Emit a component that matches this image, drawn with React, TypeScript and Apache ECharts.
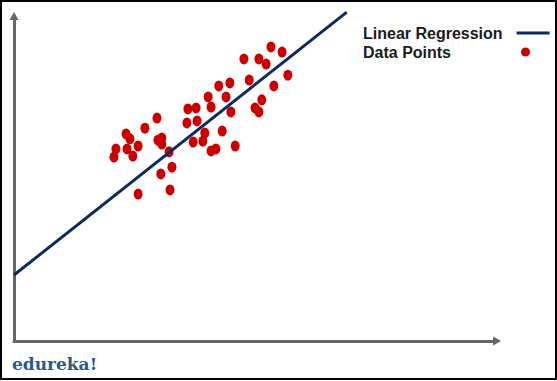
import React, { useEffect, useRef } from "react";
import * as echarts from "echarts";

// Data points (arbitrary units, x 0..100, y 0..100)
const pointsX = [53.2, 55.5, 47.6, 50.7, 52.2, 56.7, 48.7, 53.8, 44.7, 42.4, 40.2, 43.9, 51.3, 49.9, 50.7, 36.0, 37.7, 40.8, 44.9, 35.8, 37.9, 29.6, 27.1, 23.2, 24.0, 21.1, 20.7, 23.4, 25.7, 24.6, 29.8, 30.6, 30.6, 32.1, 39.5, 37.1, 39.1, 43.1, 40.8, 41.8, 45.8, 32.7, 30.4, 25.7, 32.3];
const pointsY = [90.5, 88.9, 86.8, 86.8, 85.2, 81.8, 80.3, 78.5, 79.4, 78.5, 75.1, 75.1, 74.2, 71.7, 70.5, 71.4, 71.7, 72.0, 70.5, 67.1, 67.7, 68.6, 65.5, 63.7, 62.2, 59.1, 56.6, 59.1, 60.0, 56.9, 61.8, 62.5, 60.6, 58.2, 64.0, 61.2, 61.5, 64.6, 58.5, 59.1, 60.0, 53.5, 51.4, 45.2, 46.5];

// Regression line end points
const lineX = [0, 68.9];
const lineY = [20.3, 101.2];

const seriesNames = ["Linear Regression", "Data Points"];
const logoText = "edureka!";

const ELLIPSE = "path://M0,1A1,1 0 1,1 2,1A1,1 0 1,1 0,1Z";

export default function App() {
  const ref = useRef<HTMLDivElement>(null);
  useEffect(() => {
    document.body.style.margin = "0";
    if (!ref.current) return;
    const chart = echarts.init(ref.current, null, { renderer: "svg" });
    const axisLine = {
      show: true,
      onZero: false,
      symbol: ["none", "triangle"],
      symbolSize: [9, 8],
      lineStyle: { color: "#666666", width: 3 },
    };
    chart.setOption({
      animation: false,
      backgroundColor: "#ffffff",
      grid: { left: 14, right: 60, top: 16, bottom: 40 },
      xAxis: {
        type: "value",
        min: 0,
        max: 100,
        axisLine,
        axisTick: { show: false },
        axisLabel: { show: false },
        splitLine: { show: false },
      },
      yAxis: {
        type: "value",
        min: 0,
        max: 100,
        axisLine,
        axisTick: { show: false },
        axisLabel: { show: false },
        splitLine: { show: false },
      },
      legend: [
        {
          data: [seriesNames[0]],
          left: 363,
          top: 25,
          padding: 0,
          align: "right",
          icon: "rect",
          itemWidth: 33,
          itemHeight: 3,
          selectedMode: false,
          textStyle: {
            fontFamily: "Liberation Sans",
            fontSize: 16,
            fontWeight: "bold",
            color: "#1a1a1a",
            padding: [0, 9, 0, 0],
          },
        },
        {
          data: [seriesNames[1]],
          left: 363,
          top: 44,
          padding: 0,
          align: "right",
          icon: ELLIPSE,
          itemWidth: 9,
          itemHeight: 11,
          selectedMode: false,
          textStyle: {
            fontFamily: "Liberation Sans",
            fontSize: 16,
            fontWeight: "bold",
            color: "#1a1a1a",
            padding: [0, 65, 0, 0],
          },
        },
      ],
      series: [
        {
          name: seriesNames[0],
          type: "line",
          data: lineX.map((x, i) => [x, lineY[i]]),
          symbol: "none",
          clip: false,
          color: "#0b2a5f",
          lineStyle: { color: "#0b2a5f", width: 3 },
          z: 3,
        },
        {
          name: seriesNames[1],
          type: "scatter",
          data: pointsX.map((x, i) => [x, pointsY[i]]),
          symbol: ELLIPSE,
          symbolSize: [9, 11],
          color: "#cc0000",
          itemStyle: { color: "#cc0000", opacity: 1 },
          z: 2,
        },
      ],
      graphic: [
        {
          type: "rect",
          shape: { x: 1, y: 1, width: 555, height: 378 },
          style: { fill: "none", stroke: "#000000", lineWidth: 2 },
          silent: true,
          z: 10,
        },
        {
          type: "text",
          left: 12,
          top: 355,
          style: {
            text: logoText,
            fill: "#1f5d8c",
            font: "bold 17px 'DejaVu Serif'",
          },
          z: 10,
        },
      ],
    });
    return () => chart.dispose();
  }, []);
  return <div ref={ref} style={{ width: 557, height: 381 }} />;
}
